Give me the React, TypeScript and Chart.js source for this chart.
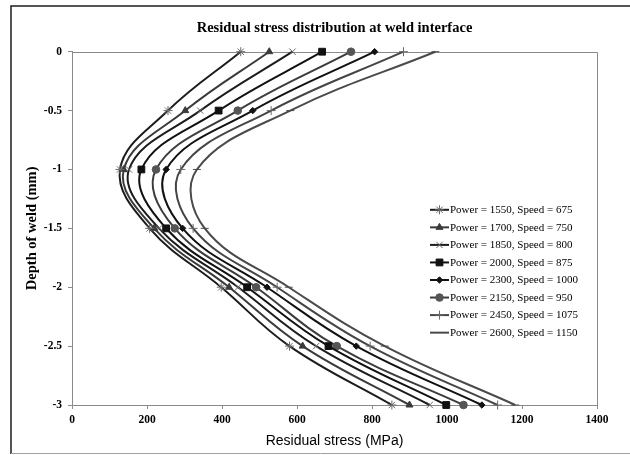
import React, { useEffect, useRef } from 'react';
import { Chart, registerables } from 'chart.js';
import { drawPoint } from 'chart.js/helpers';

Chart.register(...registerables);

// ---- data ----
const depths = [0, -0.5, -1, -1.5, -2, -2.5, -3];
const seriesLabels = [
  'Power = 1550, Speed = 675',
  'Power = 1700, Speed = 750',
  'Power = 1850, Speed = 800',
  'Power = 2000, Speed = 875',
  'Power = 2300, Speed = 1000',
  'Power = 2150, Speed = 950',
  'Power = 2450, Speed = 1075',
  'Power = 2600, Speed = 1150',
];
const stress1550 = [450, 256, 128, 207, 398, 580, 853];
const stress1700 = [526, 302, 138, 219, 419, 615, 900];
const stress1850 = [588, 342, 152, 232, 443, 651, 954];
const stress2000 = [667, 391, 185, 251, 467, 684, 998];
const stress2300 = [807, 482, 251, 295, 520, 758, 1093];
const stress2150 = [744, 442, 224, 274, 491, 706, 1044];
const stress2450 = [884, 531, 290, 323, 547, 795, 1135];
const stress2600 = [969, 582, 333, 354, 578, 834, 1182];
const seriesValues = [stress1550, stress1700, stress1850, stress2000, stress2300, stress2150, stress2450, stress2600];

// ---- styles ----
const seriesStyles = [
  { line: '#1c1c1c', marker: '#6a6a6a', fill: false, pointStyle: 'star', radius: 4.5 },
  { line: '#3a3a3a', marker: '#3a3a3a', fill: true, pointStyle: 'triangle', radius: 4 },
  { line: '#1c1c1c', marker: '#6a6a6a', fill: false, pointStyle: 'crossRot', radius: 4.5 },
  { line: '#111111', marker: '#111111', fill: true, pointStyle: 'rect', radius: 4.8 },
  { line: '#111111', marker: '#111111', fill: true, pointStyle: 'rectRot', radius: 3.2 },
  { line: '#3c3c3c', marker: '#555555', fill: true, pointStyle: 'circle', radius: 3.8 },
  { line: '#454545', marker: '#6a6a6a', fill: false, pointStyle: 'cross', radius: 4.5 },
  { line: '#4a4a4a', marker: '#4a4a4a', fill: false, pointStyle: 'line', radius: 4 },
];

const serif = "'Liberation Serif', 'Times New Roman', serif";
const sans = "'Liberation Sans', Arial, sans-serif";

const framePlugin = {
  id: 'framePlugin',
  beforeDraw(chart: any) {
    const { ctx, width, height } = chart;
    ctx.save();
    ctx.fillStyle = '#ffffff';
    ctx.fillRect(0, 0, width, height);
    ctx.strokeStyle = '#1e1e1e';
    ctx.lineWidth = 1.5;
    ctx.beginPath();
    ctx.moveTo(11, 454);
    ctx.lineTo(11, 6);
    ctx.lineTo(630, 6);
    ctx.stroke();
    ctx.strokeStyle = '#a0a0a0';
    ctx.lineWidth = 1;
    ctx.beginPath();
    ctx.moveTo(11, 453.5);
    ctx.lineTo(630, 453.5);
    ctx.stroke();
    ctx.restore();
  },
  beforeDatasetsDraw(chart: any) {
    const { ctx, chartArea: a } = chart;
    ctx.save();
    ctx.strokeStyle = '#8a8a8a';
    ctx.lineWidth = 1;
    ctx.beginPath();
    ctx.moveTo(a.left, Math.round(a.top) + 0.5);
    ctx.lineTo(Math.round(a.right) + 0.5, Math.round(a.top) + 0.5);
    ctx.lineTo(Math.round(a.right) + 0.5, a.bottom);
    ctx.stroke();
    ctx.restore();
  },
};

const legendPlugin = {
  id: 'insideLegend',
  afterDraw(chart: any) {
    const { ctx } = chart;
    const x0 = 430;
    const x1 = 449;
    const y0 = 209.8;
    const step = 17.55;
    ctx.save();
    chart.data.datasets.forEach((ds: any, i: number) => {
      const y = y0 + i * step;
      ctx.strokeStyle = ds.borderColor;
      ctx.lineWidth = 2;
      ctx.beginPath();
      ctx.moveTo(x0, y);
      ctx.lineTo(x1, y);
      ctx.stroke();
      if (ds.pointStyle !== 'line') {
        ctx.strokeStyle = ds.pointBorderColor;
        ctx.fillStyle = ds.pointBackgroundColor;
        ctx.lineWidth = 1;
        drawPoint(ctx, { pointStyle: ds.pointStyle, radius: ds.pointRadius, rotation: 0, borderWidth: 1 } as any, (x0 + x1) / 2, y);
      }
      ctx.fillStyle = '#000';
      ctx.font = `11px ${serif}`;
      ctx.textBaseline = 'middle';
      ctx.textAlign = 'left';
      ctx.fillText(ds.label, x1 + 1, y + 0.5);
    });
    ctx.restore();
  },
};

export default function App() {
  const canvasRef = useRef<HTMLCanvasElement | null>(null);

  useEffect(() => {
    const canvas = canvasRef.current;
    if (!canvas) return;
    const datasets = seriesValues.map((vals, i) => {
      const st = seriesStyles[i];
      return {
        label: seriesLabels[i],
        data: vals.map((v, j) => ({ x: v, y: depths[j] })),
        borderColor: st.line,
        borderWidth: 2,
        pointStyle: st.pointStyle,
        pointRadius: st.radius,
        pointBorderColor: st.marker,
        pointBackgroundColor: st.fill ? st.marker : 'rgba(0,0,0,0)',
        pointBorderWidth: 1,
        tension: 0.4,
        fill: false,
        clip: false,
      };
    });

    const chart = new Chart(canvas, {
      type: 'line',
      data: { datasets: datasets as any },
      plugins: [framePlugin, legendPlugin],
      options: {
        responsive: false,
        animation: false,
        devicePixelRatio: 1,
        layout: { padding: { left: 0, right: 33, top: 0, bottom: 0 } },
        plugins: {
          legend: { display: false },
          tooltip: { enabled: false },
          title: {
            display: true,
            text: 'Residual stress distribution at weld interface',
            color: '#000',
            fullSize: false,
            font: { family: serif, size: 14.5, weight: 'bold' },
            padding: { top: 19.5, bottom: 14.8 },
          },
        },
        scales: {
          x: {
            type: 'linear',
            min: 0,
            max: 1400,
            ticks: {
              stepSize: 200,
              color: '#000',
              font: { family: serif, size: 11.5, weight: 'bold' },
              padding: 4,
              maxRotation: 0,
              callback: (v: any) => String(v),
            },
            grid: { drawOnChartArea: false, drawTicks: true, tickLength: 4, color: '#8a8a8a' },
            border: { display: true, color: '#8a8a8a', width: 1 },
            title: {
              display: true,
              text: 'Residual stress (MPa)',
              color: '#000',
              font: { family: sans, size: 14 },
              padding: { top: 0, bottom: 5.6 },
            },
            afterFit: (s: any) => { s.height = 50; },
          },
          y: {
            type: 'linear',
            min: -3,
            max: 0,
            ticks: {
              stepSize: 0.5,
              color: '#000',
              font: { family: serif, size: 11.5, weight: 'bold' },
              padding: 6,
              callback: (v: any) => String(v),
            },
            grid: { drawOnChartArea: false, drawTicks: true, tickLength: 4, color: '#8a8a8a' },
            border: { display: true, color: '#8a8a8a', width: 1 },
            title: {
              display: true,
              text: 'Depth of weld (mm)',
              color: '#000',
              font: { family: serif, size: 14.5, weight: 'bold' },
              padding: { top: 23.3, bottom: 0 },
            },
            afterFit: (s: any) => { s.width = 72; },
          },
        },
      } as any,
    });
    return () => chart.destroy();
  }, []);

  return (
    <canvas
      ref={canvasRef}
      width={630}
      height={455}
      style={{ position: 'fixed', left: 0, top: 0, width: 630, height: 455, display: 'block' }}
    />
  );
}
